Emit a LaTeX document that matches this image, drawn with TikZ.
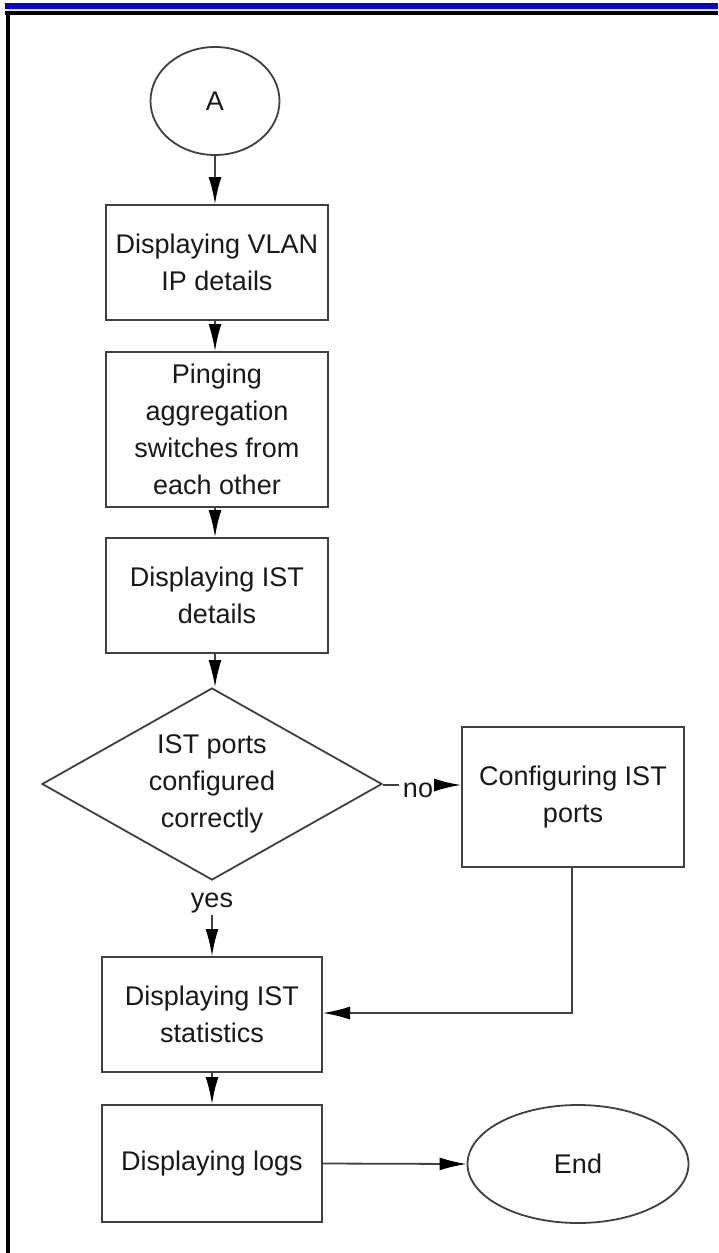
\documentclass[tikz,border=0pt]{standalone}
\usepackage{fontspec}
\setmainfont{Liberation Sans}
\usetikzlibrary{shapes.geometric,arrows.meta}
\tikzset{
  every node/.style={font=\fontsize{13.5}{18.5}\selectfont, text=black!90},
  stepbox/.style={draw=black!75, line width=1pt, rectangle, align=center, inner sep=0pt},
  term/.style={draw=black!75, line width=0.9pt, ellipse, inner sep=0pt},
  decide/.style={draw=black!75, line width=0.9pt, diamond, aspect=1.77, inner sep=0pt, align=center},
  conn/.style={draw=black!75, line width=0.9pt, -{Latex[length=13.5pt,width=6.5pt,black]}},
  plain/.style={draw=black!75, line width=0.9pt},
}
\begin{document}
\begin{tikzpicture}[x=0.5pt,y=-0.5pt]
\useasboundingbox (0,0) rectangle (718,1253);
% frame
\fill[blue] (5,3) rectangle (718,9);
\fill[black] (5,11) rectangle (718,14.5);
\fill[black] (6,11) rectangle (9.5,1253);
% nodes
\node[term, minimum width=64.5pt, minimum height=54pt] (A) at (215,101) {A};
\node[stepbox, minimum width=111pt, minimum height=57.5pt] (b1) at (217,262.5) {Displaying VLAN\\IP details};
\node[stepbox, minimum width=111pt, minimum height=77.5pt] (b2) at (217,429.5) {Pinging\\aggregation\\switches from\\each other};
\node[stepbox, minimum width=111pt, minimum height=57.5pt] (b3) at (217,595.5) {Displaying IST\\details};
\node[decide, minimum width=170pt, minimum height=96pt] (d) at (212,784) {\fontsize{13.5}{20.5}\selectfont IST ports\\configured\\correctly};
\node[stepbox, minimum width=111pt, minimum height=70pt] (cfg) at (573,797) {Configuring IST\\ports};
\node[stepbox, minimum width=110pt, minimum height=57.5pt] (b4) at (212,1014.5) {Displaying IST\\statistics};
\node[stepbox, minimum width=110pt, minimum height=58.5pt] (b5) at (212,1163.5) {Displaying logs};
\node[term, minimum width=110.5pt, minimum height=59pt] (E) at (578,1164) {End};
% labels
\node (no) at (418,790) {no};
\node (yes) at (212,903) {yes};
\coordinate (noA) at (399,785);
\coordinate (noB) at (438,785);
\coordinate (yesB) at (212,915);
\coordinate (bend) at (572,1013);
% connectors
\draw[conn] (A.south) -- (b1.north -| A.south);
\draw[conn] (b1.south -| A.south) -- (b2.north -| A.south);
\draw[conn] (b2.south -| A.south) -- (b3.north -| A.south);
\draw[conn] (b3.south -| A.south) -- (d.north -| A.south);
\draw[plain] (d.east |- noA) -- (noA);
\draw[conn] (noB) -- (cfg.west |- noB);
\draw[conn] (yesB) -- (b4.north);
\draw[conn] (cfg.south -| bend) -- (bend) -- (b4.east |- bend);
\draw[conn] (b4.south) -- (b5.north);
\draw[conn] (b5.east) -- (E.west);
\end{tikzpicture}
\end{document}
